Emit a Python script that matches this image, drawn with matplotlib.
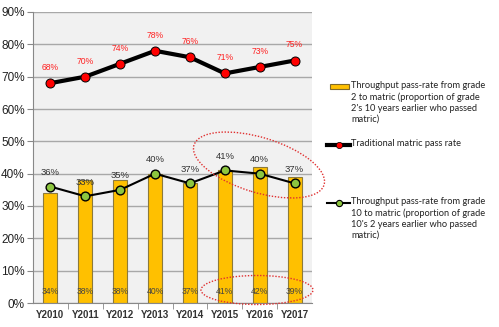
import matplotlib
matplotlib.use('Agg')
import matplotlib.pyplot as plt
from matplotlib.patches import Ellipse, Rectangle
from matplotlib.lines import Line2D

# Data
years = ['Y2010', 'Y2011', 'Y2012', 'Y2013', 'Y2014', 'Y2015', 'Y2016', 'Y2017']
grade2_rate = [34, 38, 38, 40, 37, 41, 42, 39]      # bars
traditional_rate = [68, 70, 74, 78, 76, 71, 73, 75]  # red markers
grade10_rate = [36, 33, 35, 40, 37, 41, 40, 37]      # green markers

legend_texts = [
    "Throughput pass-rate from grade\n2 to matric (proportion of grade\n2's 10 years earlier who passed\nmatric)",
    "Traditional matric pass rate",
    "Throughput pass-rate from grade\n10 to matric (proportion of grade\n10's 2 years earlier who passed\nmatric)",
]

W, H = 499, 327
fig = plt.figure(figsize=(W / 100, H / 100), dpi=100)
ax = fig.add_axes([33 / W, 24 / H, 279 / W, 291 / H])
ax.set_facecolor('#f1f1f1')

x = list(range(len(years)))

ax.bar(x, grade2_rate, width=0.4, color='#ffc000', edgecolor='#8c7a3c', lw=0.8, zorder=2)
ax.plot(x, traditional_rate, color='black', lw=3, marker='o', ms=6.5,
        mfc='#ff0000', mec='black', mew=0.7, zorder=3)
ax.plot(x, grade10_rate, color='black', lw=1.5, marker='o', ms=6.3,
        mfc='#8dc63f', mec='black', mew=1.0, zorder=3)

for i in x:
    ax.annotate(f'{traditional_rate[i]}%', (i, traditional_rate[i]), xytext=(0, 8),
                textcoords='offset points', ha='center', va='bottom',
                fontsize=6.2, color='#ff2020', family='Liberation Sans')
    ax.annotate(f'{grade10_rate[i]}%', (i, grade10_rate[i]), xytext=(0, 7),
                textcoords='offset points', ha='center', va='bottom',
                fontsize=6.8, color='#333333', family='Liberation Sans')
    ax.text(i, 3.5, f'{grade2_rate[i]}%', ha='center', va='center',
            fontsize=6.2, color='#444444', family='Liberation Sans', zorder=4)

ax.set_xlim(-0.5, len(years) - 0.5)
ax.set_ylim(0, 90)
ax.set_yticks(range(0, 91, 10))
ax.set_yticklabels([f'{v}%' for v in range(0, 91, 10)], fontsize=8.5,
                   family='Liberation Sans', color='#222222')
ax.set_xticks(x)
ax.set_xticklabels(years, fontsize=7.0, family='Liberation Sans', fontweight='bold', color='#333333')
ax.set_xticks([i + 0.5 for i in x[:-1]], minor=True)
ax.tick_params(axis='x', which='major', length=0, pad=5)
ax.tick_params(axis='x', which='minor', length=4, color='#888888')
ax.tick_params(axis='y', length=4, color='#888888', pad=2)
ax.grid(axis='y', color='#a8a8a8', lw=1, zorder=0)
ax.set_axisbelow(True)
for s in ['top', 'right']:
    ax.spines[s].set_visible(False)
ax.spines['left'].set_color('#888888')
ax.spines['bottom'].set_color('#888888')

# red dotted ellipses (inch coordinates)
fig.add_artist(Ellipse((2.59, 1.62), 1.36, 0.55, angle=-17, fill=False,
                       ls=(0, (1, 1.2)), lw=1.0, ec='#e03030',
                       transform=fig.dpi_scale_trans))
fig.add_artist(Ellipse((2.57, 0.37), 1.12, 0.29, angle=0, fill=False,
                       ls=(0, (1, 1.2)), lw=1.0, ec='#e03030',
                       transform=fig.dpi_scale_trans))

# legend drawn by hand
def fx(px):
    return px / W

def fy(py):
    return (H - py) / H

fig.add_artist(Rectangle((fx(330), fy(89)), 19 / W, 5 / H, fc='#ffc000', ec='#7f6a2a',
                         lw=0.8, transform=fig.transFigure))
fig.add_artist(Line2D([fx(327), fx(350)], [fy(145), fy(145)], color='black', lw=3,
                      transform=fig.transFigure))
fig.add_artist(Line2D([fx(339)], [fy(145)], color='black', marker='o', ms=4.5,
                      mfc='#ff0000', mec='black', mew=0.5, transform=fig.transFigure))
fig.add_artist(Line2D([fx(327), fx(350)], [fy(203), fy(203)], color='black', lw=1.5,
                      transform=fig.transFigure))
fig.add_artist(Line2D([fx(339)], [fy(203)], color='black', marker='o', ms=4.5,
                      mfc='#8dc63f', mec='black', mew=0.8, transform=fig.transFigure))

for txt, top in zip(legend_texts, [81, 139, 197]):
    fig.text(fx(351), fy(top), txt, ha='left', va='top', fontsize=6.7,
             family='Lato', color='#222222', linespacing=1.3)

fig.savefig('out.png', dpi=100)
